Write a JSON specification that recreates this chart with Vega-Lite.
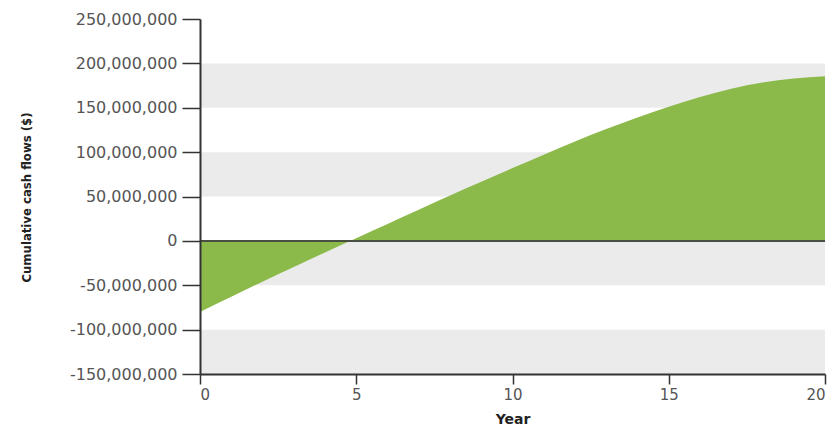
{
  "$schema": "https://vega.github.io/schema/vega-lite/v6.json",
  "autosize": "none",
  "width": 625,
  "height": 355,
  "padding": {"left": 200, "top": 19, "right": 10, "bottom": 56},
  "background": "white",
  "config": {
    "view": {"stroke": null},
    "locale": {"number": {"decimal": ".", "thousands": ",", "grouping": [3], "currency": ["$", ""], "minus": "-"}},
    "axis": {
      "grid": false,
      "zindex": 1,
      "domainColor": "#333333",
      "domainWidth": 2,
      "tickColor": "#333333",
      "tickWidth": 1.5,
      "labelColor": "#555555",
      "labelFont": "DejaVu Sans",
      "labelFontSize": 15,
      "labelFontWeight": "normal",
      "titleColor": "#222222"
    },
    "axisY": {
      "tickSize": 18,
      "labelPadding": 5,
      "labelFontSize": 16,
      "titleFont": "DejaVu Sans Condensed",
      "titleFontSize": 13,
      "titleFontWeight": "bold",
      "titleAngle": -90,
      "titleX": -174,
      "titleY": 178,
      "titleAlign": "center",
      "titleBaseline": "middle"
    },
    "axisX": {
      "tickSize": 10,
      "labelPadding": 3,
      "titleFont": "DejaVu Sans",
      "titleFontSize": 14,
      "titleFontWeight": "bold",
      "titlePadding": 10
    }
  },
  "datasets": {
    "bands": [
      {"lo": 150000000, "hi": 200000000},
      {"lo": 50000000, "hi": 100000000},
      {"lo": -50000000, "hi": 0},
      {"lo": -150000000, "hi": -100000000}
    ],
    "flows": [
      {"year": 0, "cf": -80000000},
      {"year": 1, "cf": -63000000},
      {"year": 2, "cf": -46000000},
      {"year": 3, "cf": -29500000},
      {"year": 4, "cf": -13000000},
      {"year": 5, "cf": 3000000},
      {"year": 6, "cf": 19000000},
      {"year": 7, "cf": 35000000},
      {"year": 8, "cf": 51000000},
      {"year": 9, "cf": 66500000},
      {"year": 10, "cf": 82000000},
      {"year": 11, "cf": 97000000},
      {"year": 12, "cf": 112000000},
      {"year": 13, "cf": 126000000},
      {"year": 14, "cf": 139000000},
      {"year": 15, "cf": 151000000},
      {"year": 16, "cf": 162000000},
      {"year": 17, "cf": 171500000},
      {"year": 18, "cf": 178500000},
      {"year": 19, "cf": 183000000},
      {"year": 20, "cf": 185500000}
    ],
    "zero": [{"v": 0}]
  },
  "layer": [
    {
      "data": {"name": "bands"},
      "mark": {"type": "rect", "color": "#ebebeb"},
      "encoding": {
        "y": {"field": "lo", "type": "quantitative", "title": "Cumulative cash flows ($)",
              "scale": {"domain": [-150000000, 250000000], "nice": false},
              "axis": {"zindex": 2, "format": ",d", "values": [-150000000, -100000000, -50000000, 0, 50000000, 100000000, 150000000, 200000000, 250000000]}},
        "y2": {"field": "hi"}
      }
    },
    {
      "data": {"name": "flows"},
      "mark": {"type": "area", "color": "#8cba4a", "interpolate": "monotone", "opacity": 1},
      "encoding": {
        "x": {"field": "year", "type": "quantitative", "title": "Year",
              "scale": {"domain": [0, 20], "nice": false},
              "axis": {"zindex": 2, "format": "d", "values": [0, 5, 10, 15, 20]}},
        "y": {"field": "cf", "type": "quantitative", "title": "Cumulative cash flows ($)", "stack": null,
              "axis": {"zindex": 2, "format": ",d", "values": [-150000000, -100000000, -50000000, 0, 50000000, 100000000, 150000000, 200000000, 250000000]}}
      }
    },
    {
      "data": {"name": "zero"},
      "mark": {"type": "rule", "color": "#4a4f44", "strokeWidth": 2},
      "encoding": {
        "y": {"field": "v", "type": "quantitative", "title": "Cumulative cash flows ($)",
              "axis": {"zindex": 2, "format": ",d", "values": [-150000000, -100000000, -50000000, 0, 50000000, 100000000, 150000000, 200000000, 250000000]}}
      }
    }
  ]
}
